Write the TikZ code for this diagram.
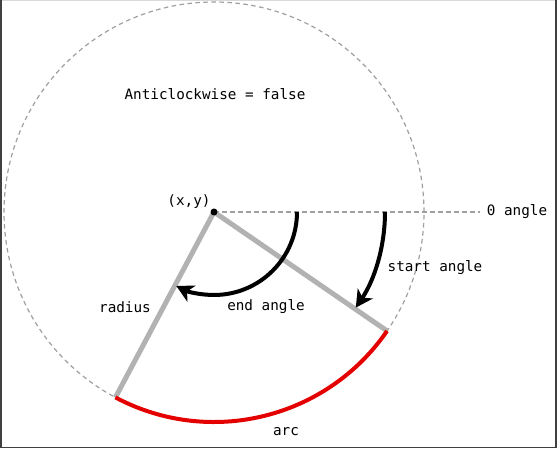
\documentclass[tikz,border=0pt]{standalone}
\usepackage{fontspec}
\setmonofont{DejaVu Sans Mono}
\usetikzlibrary{arrows.meta}
\begin{document}
\begin{tikzpicture}[x=1pt,y=1pt,
  lbl/.style={font=\ttfamily\fontsize{14.3}{16}\selectfont, inner sep=0pt},
  guide/.style={draw=gray!75, line width=1.2pt, dash pattern=on 4.5pt off 3.5pt},
  radline/.style={draw=black!30, line width=5pt},
  arcline/.style={draw=red!90!black, line width=4pt},
  anglearrow/.style={draw=black, line width=4pt, -{Stealth[length=17pt,width=18pt,inset=5pt]}}]
\useasboundingbox (0,0) rectangle (557,449);
\fill[white] (0,0) rectangle (557,449);
% frame
\draw[black!15, line width=1pt] (0,448.3) -- (557,448.3);
\draw[black!75, line width=1.6pt] (0.8,449) -- (0.8,1.6) -- (555.8,1.6) -- (555.8,449);
\coordinate (c) at (214,237);
% dashed circle and zero line
\draw[guide] (c) circle[radius=210];
\coordinate (zero) at (480,237);
\draw[guide] (c) -- (zero);
% radii
\path (c) ++(-34.5:210) coordinate (s);
\path (c) ++(-118:210) coordinate (e);
\draw[radline] (c) -- (s);
\draw[radline] (c) -- (e);
% arc
\draw[arcline] (s) arc[start angle=-34.5, end angle=-118, radius=210];
% angle arrows
\path (c) ++(171,0) coordinate (sa);
\path (c) ++(83,0) coordinate (ea);
\draw[anglearrow] (sa) arc[start angle=0, end angle=-34, radius=171];
\draw[anglearrow] (ea) arc[start angle=0, end angle=-117, radius=83];
% center dot
\fill[black] (c) circle[radius=3.5];
% labels
\node[lbl] (title) at (215,355) {Anticlockwise = false};
\node[lbl] (xy) at (189,247) {(x,y)};
\node[lbl] (zl) at (517,237) {0 angle};
\node[lbl] (sl) at (435,181) {start angle};
\node[lbl] (el) at (266,142) {end angle};
\node[lbl] (rl) at (125,142) {radius};
\node[lbl] (al) at (286,17) {arc};
\end{tikzpicture}
\end{document}
